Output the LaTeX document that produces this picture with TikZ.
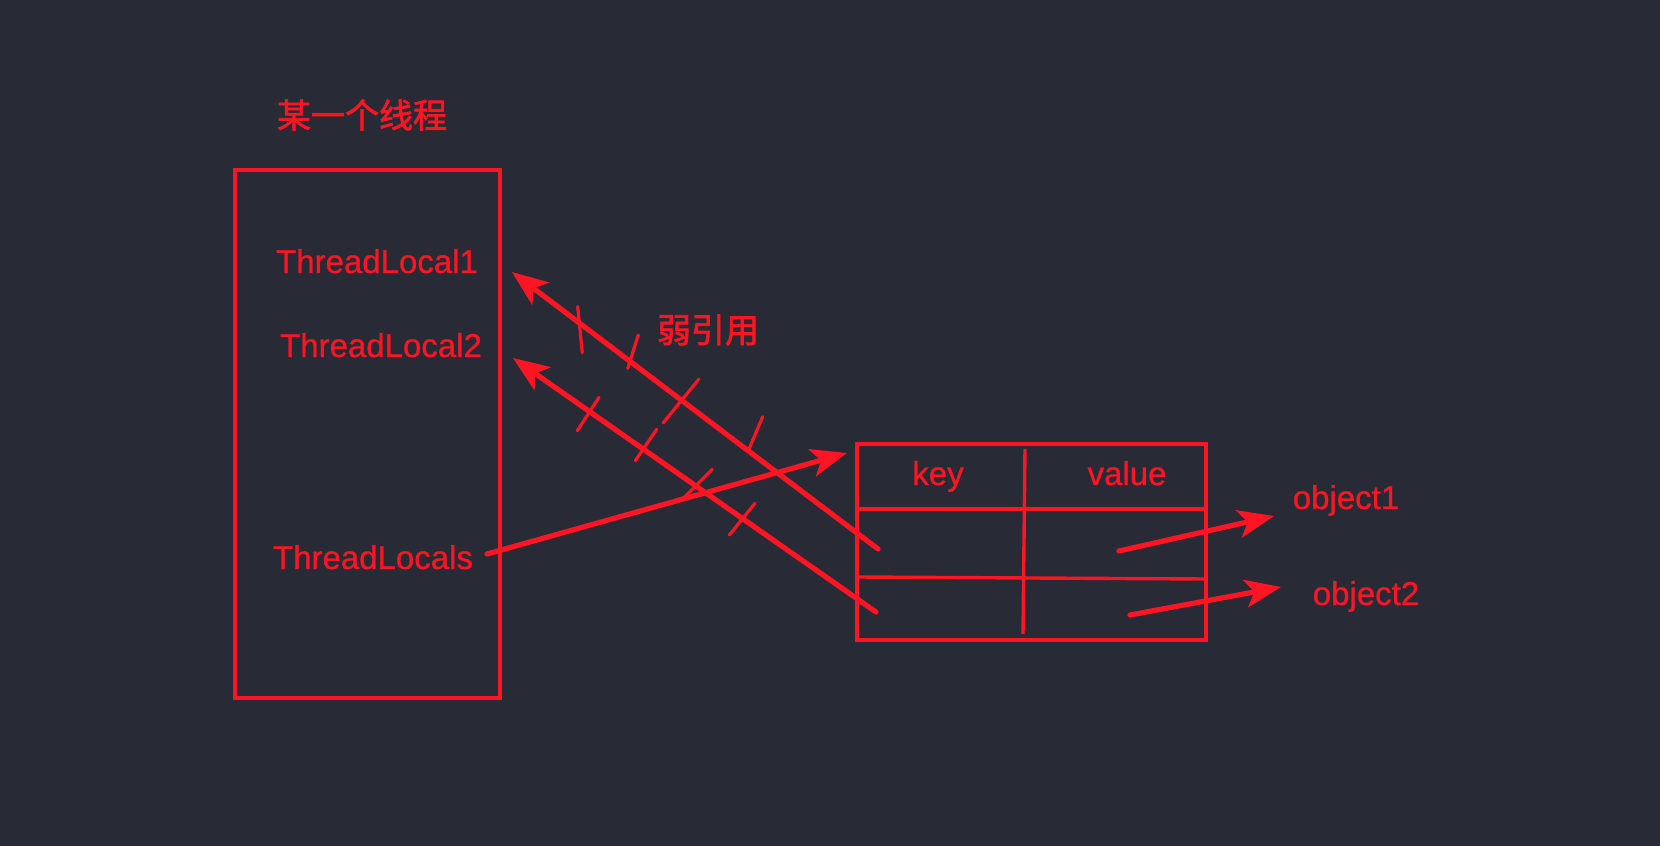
\documentclass[tikz,border=0pt]{standalone}
\usepackage{fontspec}
\setmainfont[FakeBold=0.8,AutoFakeBold=0.8]{Liberation Sans}
\newfontfamily\cjk[FakeBold=2,AutoFakeBold=2]{Noto Sans CJK SC}
\usetikzlibrary{arrows.meta}
\definecolor{bg}{RGB}{40,42,54}
\definecolor{rd}{RGB}{252,22,36}
\begin{document}
\begin{tikzpicture}[x=0.5pt,y=-0.5pt,
  frame/.style={draw=rd,line width=1.7pt},
  lbl/.style={text=rd,inner sep=0pt,anchor=base,font=\bfseries\fontsize{16.5}{18}\selectfont},
  cjklbl/.style={text=rd,inner sep=0pt,font=\cjk\bfseries\fontsize{17}{19}\selectfont},
  ptr/.style={draw=rd,line width=2.6pt,line cap=round,-{Stealth[length=18pt,width=14pt,inset=4.5pt]}},
  tick/.style={draw=rd,line width=1.6pt,line cap=round}]
\fill[bg] (0,0) rectangle (1660,846);
\useasboundingbox (0,0) rectangle (1660,846);
% thread box
\node[cjklbl] (title) at (362,115) {某一个线程};
\draw[frame] (235,170) rectangle (500,698);
\node[lbl] (tl1) at (377,273) {ThreadLocal1};
\node[lbl] (tl2) at (381,357) {ThreadLocal2};
\node[lbl] (tls) at (373,569) {ThreadLocals};
% table
\draw[frame] (857,444) rectangle (1206,640);
\draw[frame] (857,509) -- (1206,509);
\draw[frame] (859,577) -- (1206,579);
\draw[frame] (1025,449) -- (1023,634);
\node[lbl] (key) at (938,485) {key};
\node[lbl] (val) at (1127,485) {value};
\node[lbl] (o1) at (1346,509) {object1};
\node[lbl] (o2) at (1366,605) {object2};
% connector end points
\coordinate (a1s) at (878,549);
\coordinate (a1e) at (512,272);
\coordinate (a2s) at (876,612);
\coordinate (a2e) at (513,358);
\coordinate (a3s) at (487,554);
\coordinate (a3e) at (847,453);
\coordinate (o1s) at (1119,551);
\coordinate (o1e) at (1274,516);
\coordinate (o2s) at (1130,615);
\coordinate (o2e) at (1281,587);
\draw[ptr] (a1s) -- (a1e);
\draw[ptr] (a2s) -- (a2e);
\draw[ptr] (a3s) -- (a3e);
\draw[ptr] (o1s) -- (o1e);
\draw[ptr] (o2s) -- (o2e);
% weak reference ticks
\draw[tick] (577.7,306.7) -- (582.3,352.7);
\draw[tick] (638.3,335) -- (627.7,368.3);
\draw[tick] (699,379) -- (663.3,422.7);
\draw[tick] (762.7,416.7) -- (748.3,450.7);
\draw[tick] (599,397.3) -- (577.3,430.7);
\draw[tick] (656.7,429.3) -- (635.3,460.7);
\draw[tick] (712.3,469.3) -- (683.3,498.3);
\draw[tick] (755,503.3) -- (729.3,535);
\node[cjklbl] (weak) at (708,330) {弱引用};
\end{tikzpicture}
\end{document}
